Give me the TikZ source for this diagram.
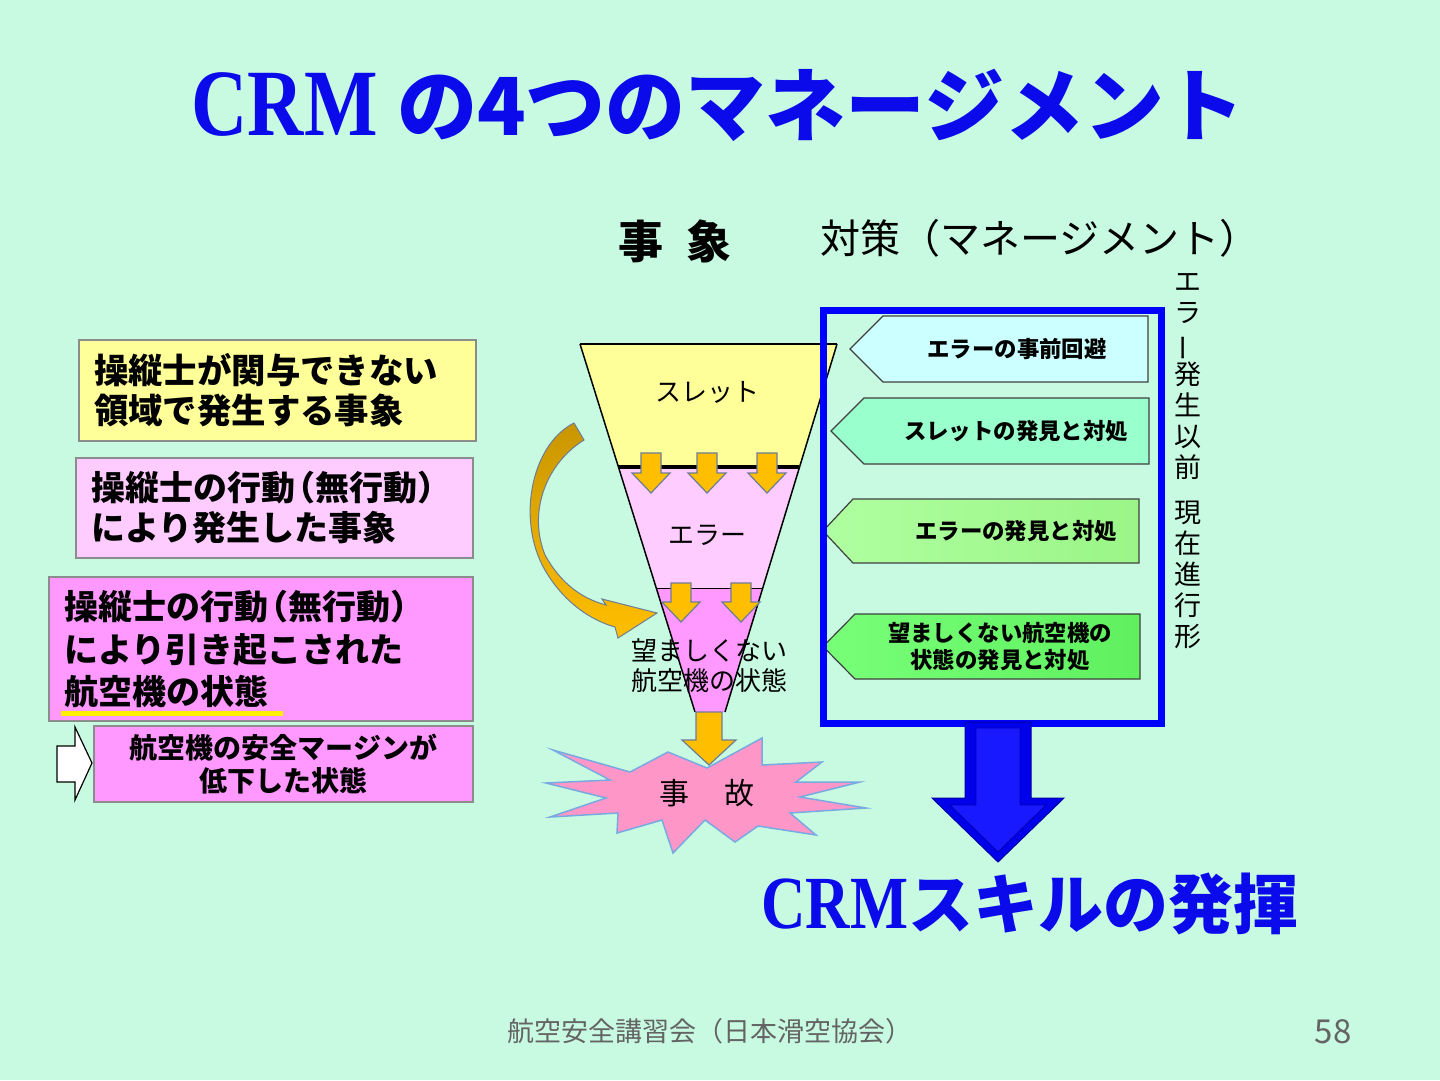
\documentclass[tikz,border=0pt]{standalone}
\usepackage{fontspec}
\usepackage{graphicx}
\usepackage{tikz}
\usetikzlibrary{arrows}

\newfontfamily\jp{Noto Sans CJK JP}
\newfontfamily\crm[FakeStretch=0.82]{Liberation Serif}
\newcommand{\fs}[2]{\fontsize{#1}{#2}\selectfont}
\newcommand{\lpar}{\kern-0.4em（}
\newcommand{\rpar}{）}

\definecolor{bgmint}{RGB}{200,250,226}
\definecolor{titleblue}{RGB}{10,10,235}
\definecolor{evyellow}{RGB}{255,255,153}
\definecolor{evpink}{RGB}{255,204,255}
\definecolor{evdeep}{RGB}{255,153,255}
\definecolor{boxline}{RGB}{140,140,140}
\definecolor{ulyellow}{RGB}{255,240,0}
\definecolor{arrorange}{RGB}{255,190,0}
\definecolor{arrgold}{RGB}{200,150,0}
\definecolor{arrline}{RGB}{110,125,150}
\definecolor{tagcyan}{RGB}{204,255,255}
\definecolor{tagmint}{RGB}{153,255,204}
\definecolor{taggreen}{RGB}{175,255,160}
\definecolor{taggreenR}{RGB}{155,245,135}
\definecolor{taglime}{RGB}{120,255,120}
\definecolor{taglimeR}{RGB}{95,240,95}
\definecolor{frameblue}{RGB}{0,0,255}
\definecolor{arrblue}{RGB}{0,0,235}
\definecolor{starpink}{RGB}{255,150,200}
\definecolor{starline}{RGB}{120,170,225}
\definecolor{footgray}{RGB}{100,100,100}

% block arrow pointing down: cx, top, neck, tip, shaft half, head half
\newcommand{\dnarrow}[7]{%
  \filldraw[#7] ({#1-#5},#2) -- ({#1+#5},#2) -- ({#1+#5},#3) -- ({#1+#6},#3)
    -- (#1,#4) -- ({#1-#6},#3) -- ({#1-#5},#3) -- cycle;}
% tag pointing left: tip x, corner x, right x, top, bottom, style
\newcommand{\tagshape}[6]{%
  \draw[#6] (#1,{(#4+#5)/2}) -- (#2,#4) -- (#3,#4) -- (#3,#5) -- (#2,#5) -- cycle;}

\begin{document}
\begin{tikzpicture}[x=1pt,y=-1pt]
    \tikzstyle{evbox}=[draw=boxline, line width=2, inner xsep=15, inner ysep=0, anchor=north west, align=left, font=\jp\bfseries\fs{34}{40}]
    \tikzstyle{arrowfill}=[fill=arrorange, draw=arrline, line width=1.2]
    \tikzstyle{tagline}=[draw=black!75, line width=1.2]
    \tikzstyle{tagtext}=[font=\jp\bfseries\fs{22.4}{27}, align=center]
    \tikzstyle{funtext}=[font=\jp\fs{26}{30}, align=center]

    \useasboundingbox (0,0) rectangle (1440,1080);
    \fill[bgmint] (0,0) rectangle (1440,1080);

    \node[anchor=base, text=titleblue] (title) at (718,135) {{\crm\bfseries\fs{95}{100}CRM }{\jp\bfseries\fs{80}{90}の4つのマネージメント}};

    \node[font=\jp\bfseries\fs{45}{50}] (jisho) at (675,241) {事\hspace{0.5em}象};
    \node[font=\jp\fs{40}{44}] (taisaku) at (1040,238) {対策（マネージメント）};

    % left column
    \node[evbox, fill=evyellow, text width=367, minimum height=101, font=\jp\bfseries\fs{34.4}{40}] (ev1) at (78,339) {操縦士が関与できない\\領域で発生する事象};
    \node[evbox, fill=evpink, text width=367, minimum height=100] (ev2) at (75,457) {操縦士の行動\lpar 無行動\rpar\\により発生した事象};
    \node[evbox, fill=evdeep, text width=394, minimum height=144, font=\jp\bfseries\fs{34}{42.5}] (ev3) at (48,576) {操縦士の行動\lpar 無行動\rpar\\により引き起こされた\\航空機の状態};
    \draw[ulyellow, line width=5] (61,713) -- (283,713);
    \node[evbox, fill=evdeep, align=center, text width=349, minimum height=76, font=\jp\bfseries\fs{28}{33}] (ev4) at (93,725) {航空機の安全マージンが\\低下した状態};
    \filldraw[fill=white, draw=black, line width=1.2] (57,746) -- (75,746) -- (75,727) -- (92,763) -- (75,800) -- (75,782) -- (57,782) -- cycle;

    % funnel
    \fill[evyellow] (580,344) -- (837,344) -- (799,467) -- (618,467) -- cycle;
    \fill[evpink] (618,467) -- (799,467) -- (762,588) -- (656,588) -- cycle;
    \fill[evdeep] (656,588) -- (762,588) -- (725,712) -- (695,712) -- cycle;
    \draw[line width=1.5] (580,344) -- (695,712);
    \draw[line width=1.5] (837,344) -- (725,712);
    \draw[line width=2.5] (580,344) -- (837,344);
    \draw[line width=3.5] (618,467) -- (799,467);
    \draw[line width=1] (656,588) -- (762,588);

    \node[funtext] (threat) at (707,392) {スレット};
    \node[funtext] (error) at (707,535) {エラー};

    \dnarrow{651}{453}{473}{493}{10}{19}{arrowfill}
    \dnarrow{707}{453}{473}{493}{10}{19}{arrowfill}
    \dnarrow{767}{453}{473}{493}{10}{19}{arrowfill}
    \dnarrow{681}{583}{602}{622}{10}{19}{arrowfill}
    \dnarrow{741}{583}{602}{622}{10}{19}{arrowfill}

    \shade[top color=arrgold, bottom color=arrorange, draw=arrline, line width=1]
      (574,423) .. controls (530,445) and (515,525) .. (548,575)
      .. controls (565,602) and (590,620) .. (615,627) -- (618,638) -- (657,613) -- (602,599) -- (606,605)
      .. controls (580,598) and (560,582) .. (545,555)
      .. controls (527,510) and (548,462) .. (584,440) -- cycle;

    \node[funtext] (state) at (709,666) {望ましくない\\航空機の状態};

    % accident
    \filldraw[fill=starpink, draw=starline, line width=1.5]
      (553,750) -- (630,772) -- (668,752) -- (707,768) -- (762,738) -- (762,765)
      -- (822,762) -- (796,782) -- (860,782) -- (800,797) -- (866,808) -- (790,813)
      -- (816,835) -- (758,826) -- (735,842) -- (705,820) -- (673,853) -- (662,820)
      -- (617,833) -- (618,813) -- (550,817) -- (606,798) -- (546,783) -- (610,780) -- cycle;
    \dnarrow{709}{712}{740}{765}{13}{27}{arrowfill}
    \node[font=\jp\fs{30}{34}] (accident) at (707,793) {事\hspace{1.17em}故};

    % management
    \tagshape{850}{883}{1148}{316}{382}{tagline, fill=tagcyan}
    \tagshape{831}{864}{1149}{398}{464}{tagline, fill=tagmint}
    \tagshape{823}{853}{1139}{499}{563}{tagline, left color=taggreen, right color=taggreenR}
    \tagshape{823}{855}{1140}{614}{679}{tagline, left color=taglime, right color=taglimeR}
    \node[tagtext] (avoid) at (1017,349) {エラーの事前回避};
    \node[tagtext] (tcope) at (1016,431) {スレットの発見と対処};
    \node[tagtext] (ecope) at (1016,531) {エラーの発見と対処};
    \node[tagtext] (scope) at (1000,647) {望ましくない航空機の\\状態の発見と対処};
    \node[draw=frameblue, line width=7, minimum width=338, minimum height=413, anchor=north west, inner sep=0] (mgmt) at (820,307) {};

    \node[font=\jp\fs{27}{31}, align=center, inner sep=0] (phase) at (1188,461) {エ\\ラ\\\rotatebox[origin=c]{90}{ー}\\発\\生\\以\\前\\[14pt]現\\在\\進\\行\\形};

    \dnarrow{998}{722}{798}{862}{33}{66}{fill=arrblue, draw=arrblue!70!black, line width=1}
    \dnarrow{998}{728}{805}{852}{22}{48}{fill=frameblue!90!white, draw=arrblue!75!black, line width=0.8}

    \node[anchor=base, text=titleblue] (skill) at (1030,928) {{\crm\bfseries\fs{75}{80}CRM}{\jp\bfseries\fs{65}{70}スキルの発揮}};

    \node[font=\jp\fs{27}{30}, text=footgray] (foot) at (710,1031) {航空安全講習会（日本滑空協会）};
    \node[font=\jp\fs{33}{36}, text=footgray] (page) at (1333,1032) {58};
\end{tikzpicture}
\end{document}
